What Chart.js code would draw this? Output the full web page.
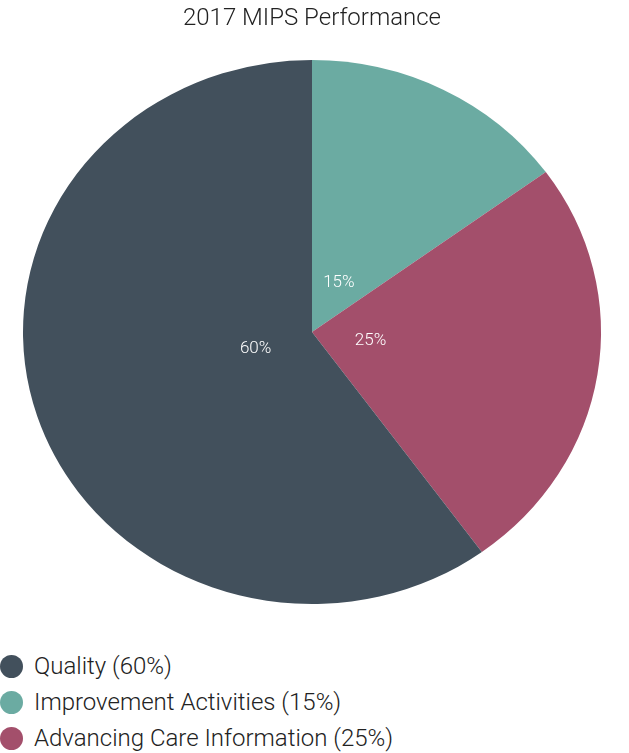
<!DOCTYPE html>
<html>
<head>
<meta charset="utf-8">
<script src="https://cdn.jsdelivr.net/npm/chart.js@4"></script>
<style>
  html, body { margin: 0; padding: 0; background: #fff; }
  #wrap { position: relative; width: 629px; height: 620px; }
  #legend { padding-top: 28px; font-family: Roboto, sans-serif; font-weight: 300; font-size: 24px; color: #222; }
  .row { display: flex; align-items: center; height: 36px; }
  .dot { width: 23px; height: 23px; border-radius: 50%; flex: none; }
  .lbl { margin-left: 11px; white-space: nowrap; }
</style>
</head>
<body>
<div id="wrap"><canvas id="c"></canvas></div>
<div id="legend"></div>
<script>
const titleText = '2017 MIPS Performance';
const categories = ['Quality', 'Improvement Activities', 'Advancing Care Information'];
const values = [60, 15, 25];
const colors = ['#42505C', '#6BABA2', '#A34F6B'];
const sliceOrder = [1, 2, 0]; // drawing order starting at 12 o'clock: teal, red, dark

const xStretch = 1.0625;

const orderedLabels = sliceOrder.map(i => categories[i]);
const orderedValues = sliceOrder.map(i => values[i]);
const orderedColors = sliceOrder.map(i => colors[i]);

const stretchPlugin = {
  id: 'stretch',
  beforeDatasetsDraw(chart) {
    const meta = chart.getDatasetMeta(0);
    const arc = meta.data[0];
    if (!arc) return;
    const ctx = chart.ctx;
    ctx.save();
    ctx.translate(arc.x, arc.y);
    ctx.scale(xStretch, 1);
    ctx.translate(-arc.x, -arc.y);
  },
  afterDatasetsDraw(chart) {
    const ctx = chart.ctx;
    ctx.restore();
    const meta = chart.getDatasetMeta(0);
    ctx.save();
    ctx.fillStyle = '#ffffff';
    ctx.font = '300 17px Roboto, sans-serif';
    ctx.textAlign = 'center';
    ctx.textBaseline = 'middle';
    meta.data.forEach((arc, i) => {
      const p = arc.getProps(['x', 'y', 'startAngle', 'endAngle', 'outerRadius'], true);
      const mid = (p.startAngle + p.endAngle) / 2;
      const r = p.outerRadius * 0.205;
      const x = p.x + Math.cos(mid) * r * xStretch;
      const y = p.y + Math.sin(mid) * r;
      ctx.fillText(orderedValues[i] + '%', x, y);
    });
    ctx.restore();
  }
};

new Chart(document.getElementById('c'), {
  type: 'pie',
  data: {
    labels: orderedLabels,
    datasets: [{
      data: orderedValues,
      backgroundColor: orderedColors,
      borderWidth: 0,
      hoverOffset: 0
    }]
  },
  options: {
    responsive: true,
    maintainAspectRatio: false,
    animation: false,
    layout: { padding: { top: 0, left: 0, right: 5, bottom: 16 } },
    plugins: {
      legend: { display: false },
      tooltip: { enabled: false },
      title: {
        display: true,
        text: titleText,
        color: '#222',
        font: { family: 'Roboto, sans-serif', size: 24, weight: '300', lineHeight: 1.2 },
        padding: { top: 5, bottom: 26.2 }
      }
    }
  },
  plugins: [stretchPlugin]
});

const legend = document.getElementById('legend');
categories.forEach((name, i) => {
  const row = document.createElement('div');
  row.className = 'row';
  const dot = document.createElement('span');
  dot.className = 'dot';
  dot.style.background = colors[i];
  const lbl = document.createElement('span');
  lbl.className = 'lbl';
  lbl.textContent = name + ' (' + values[i] + '%)';
  row.appendChild(dot);
  row.appendChild(lbl);
  legend.appendChild(row);
});
</script>
</body>
</html>
